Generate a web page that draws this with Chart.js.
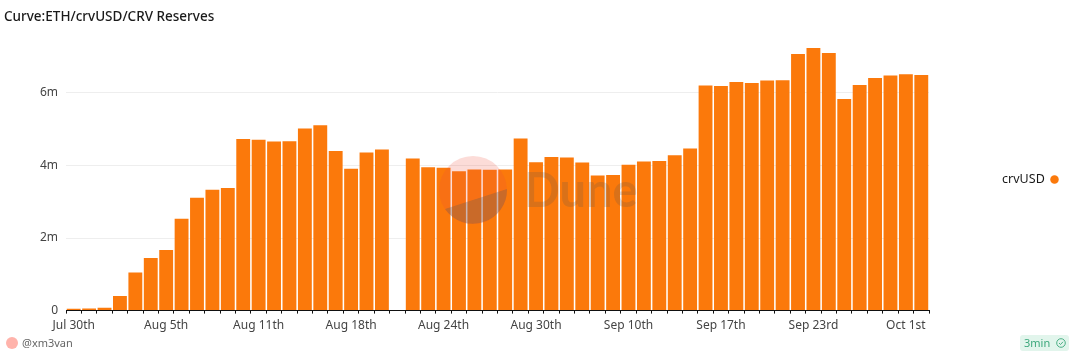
<!DOCTYPE html>
<html>
<head>
<meta charset="utf-8">
<script src="https://cdn.jsdelivr.net/npm/chart.js@4"></script>
<style>
  html, body { margin: 0; padding: 0; background: #fff; }
  body { width: 1077px; height: 357px; position: relative; overflow: hidden; font-family: "Noto Sans", sans-serif; }
  #wrap { position: absolute; left: 0; top: 0; width: 1077px; height: 357px; }
  #mark { position: absolute; left: 0; top: 0; pointer-events: none; }
  #author { position: absolute; left: 22px; top: 335px; font-size: 11px; color: #666; }
  #dot { position: absolute; left: 6px; top: 337px; width: 12px; height: 12px; border-radius: 50%; background: #ffb3ab; }
  #badge { position: absolute; left: 1020px; top: 335px; width: 49px; height: 16px; border-radius: 3px; background: #e2f5ec; color: #3da87c; font-size: 11px; line-height: 16px; padding-left: 4px; box-sizing: border-box; }
  #badge svg { position: absolute; left: 36px; top: 3px; }
</style>
</head>
<body>
<div id="wrap"><canvas id="graphicReserves"></canvas></div>
<svg id="mark" width="1077" height="357">
  <circle cx="473" cy="190" r="34" fill="#f0523c" opacity="0.2"/>
  <path d="M445 209 L507 189 A34 34 0 0 1 445 209 Z" fill="#5a5a5a" opacity="0.3"/>
  <text x="524" y="207" font-family="Lato" font-size="47" font-weight="700" fill="#555" opacity="0.2">Dune</text>
</svg>
<div id="dot"></div>
<div id="author">@xm3van</div>
<div id="badge">3min<svg width="10" height="10" viewBox="0 0 10 10"><circle cx="5" cy="5" r="4.3" fill="none" stroke="#3da87c" stroke-width="0.9"/><path d="M3 5 L4.5 6.5 L7 3.8" fill="none" stroke="#3da87c" stroke-width="0.9"/></svg></div>
<script>
// Curve reserves chart
const categories = [
  'Jul 30th','Jul 31st','Aug 1st','Aug 2nd','Aug 3rd','Aug 4th','Aug 5th','Aug 6th',
  'Aug 7th','Aug 8th','Aug 9th','Aug 10th','Aug 11th','Aug 12th','Aug 13th','Aug 14th',
  'Aug 15th','Aug 16th','Aug 18th','Aug 19th','Aug 20th','Aug 21st','Aug 22nd','Aug 23rd',
  'Aug 24th','Aug 25th','Aug 26th','Aug 27th','Aug 28th','Aug 29th','Aug 30th','Aug 31st',
  'Sep 1st','Sep 3rd','Sep 5th','Sep 8th','Sep 10th','Sep 11th','Sep 12th','Sep 13th',
  'Sep 15th','Sep 16th','Sep 17th','Sep 18th','Sep 19th','Sep 20th','Sep 21st','Sep 22nd',
  'Sep 23rd','Sep 24th','Sep 25th','Sep 26th','Sep 27th','Sep 29th','Oct 1st','Oct 2nd'
];
const crvUSD = [
  0.05, 0.06, 0.08, 0.40, 1.05, 1.45, 1.67, 2.53,
  3.11, 3.33, 3.38, 4.73, 4.71, 4.66, 4.67, 5.02,
  5.11, 4.40, 3.91, 4.36, 4.44, null, 4.19, 3.95,
  3.94, 3.84, 3.89, 3.88, 3.89, 4.74, 4.09, 4.23,
  4.22, 4.08, 3.72, 3.74, 4.02, 4.11, 4.12, 4.28,
  4.47, 6.20, 6.19, 6.30, 6.27, 6.34, 6.35, 7.07,
  7.24, 7.10, 5.83, 6.22, 6.41, 6.48, 6.51, 6.49
];
const yTicks = [0, 2, 4, 6];

const legendWidth = {
  id: 'legendWidth',
  beforeInit(chart) {
    const fit = chart.legend.fit;
    chart.legend.fit = function () {
      fit.bind(chart.legend)();
      this.width = 131;
    };
  },
  afterLayout(chart) {
    // legend sits a bit lower than the default centre
    chart.legend.top += 6;
    chart.legend.bottom += 6;
  }
};

new Chart(document.getElementById('graphicReserves').getContext('2d'), {
  type: 'bar',
  data: {
    labels: categories,
    datasets: [{
      label: 'crvUSD',
      data: crvUSD,
      backgroundColor: '#fb790b',
      barPercentage: 0.9,
      categoryPercentage: 1
    }]
  },
  plugins: [legendWidth],
  options: {
    responsive: true,
    maintainAspectRatio: false,
    animation: false,
    layout: { padding: { left: 4, right: 17, top: 9, bottom: 19 } },
    plugins: {
      title: {
        display: true,
        text: 'Curve:ETH/crvUSD/CRV Reserves',
        align: 'start',
        color: '#1a1a1a',
        font: { family: 'Noto Sans', size: 13.5, weight: '500' },
        padding: { top: 0, bottom: 20.5 }
      },
      legend: {
        position: 'right',
        rtl: true,
        labels: {
          usePointStyle: true,
          boxWidth: 7,
          boxHeight: 6,
          color: '#1a1a1a',
          font: { family: 'Noto Sans', size: 12.5 },
          padding: 2
        }
      },
      tooltip: { enabled: false }
    },
    scales: {
      x: {
        offset: true,
        grid: { offset: true, drawOnChartArea: false, tickLength: 3, tickColor: '#111' },
        border: { color: '#111' },
        ticks: {
          autoSkip: false,
          maxRotation: 0,
          minRotation: 0,
          padding: 5,
          color: '#444',
          font: { family: 'Noto Sans', size: 12 },
          callback: function (value, index) {
            return index % 6 === 0 ? this.getLabelForValue(value) : '';
          }
        }
      },
      y: {
        min: 0,
        max: 7.3,
        afterBuildTicks: (scale) => { scale.ticks = yTicks.map(v => ({ value: v })); },
        afterFit: (scale) => { scale.width = 62; },
        grid: { color: '#eeeeee', drawTicks: false },
        border: { display: false },
        ticks: {
          padding: 8,
          color: '#444',
          font: { family: 'Noto Sans', size: 12 },
          callback: (v) => (v === 0 ? '0' : v + 'm')
        }
      }
    }
  }
});
</script>
</body>
</html>
